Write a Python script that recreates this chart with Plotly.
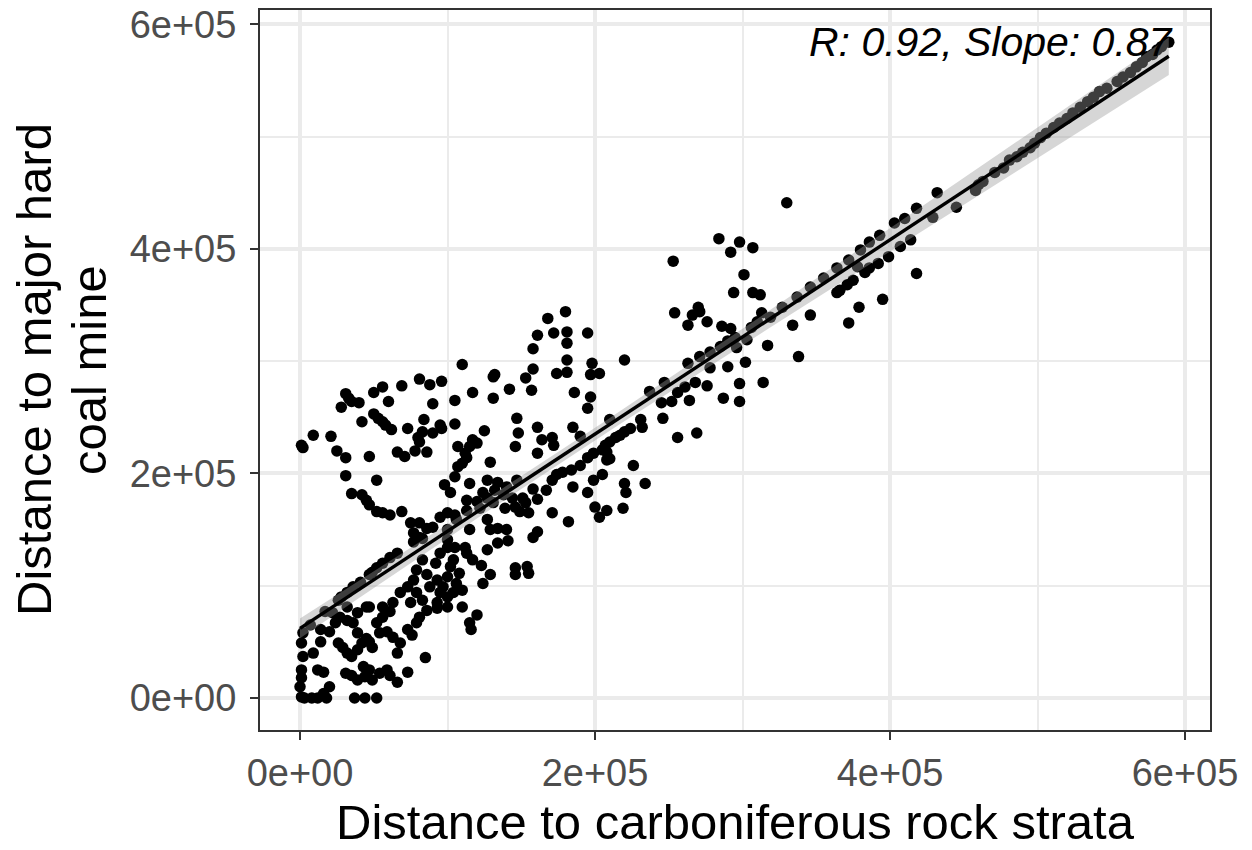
import numpy as np
import plotly.graph_objects as go

# Distances in km, converted to metres below
carb_km = [
    # upper-left cluster
    1, 2, 9, 21, 25, 31, 47, 31, 33, 35, 40, 28, 42, 50, 56, 60, 69, 50, 53, 56,
    58, 62, 66, 71, 73, 81, 88, 96, 90, 84, 95, 96, 90, 83, 80, 81, 78, 86, 31, 52,
    # middle-left
    35, 42, 45, 47, 52, 56, 61, 69, 98, 75, 81, 86, 90, 77, 81, 77, 83, 95, 100, 66,
    61, 56, 52, 49, 47, 41, 36, 32, 28, 26, 83, 92, 95, 100, 79, 86, 93, 77, 73, 68,
    79, 88, 95, 100, 83, 93, 100, 75, 63, 56, 47,
    # lower-left
    2, 1, 2, 1, 1, 0, 1, 3, 8, 12, 18, 37, 44, 52, 9, 12, 16, 20, 16, 14,
    20, 24, 27, 32, 36, 26, 29, 32, 35, 39, 42, 39, 45, 49, 47, 31, 35, 39, 44, 47,
    43, 49, 54, 59, 61, 66, 73, 52, 56, 61, 54, 59, 63, 68, 66, 73, 76, 79, 81, 86,
    93, 85, 39, 45, 32, 22, 14, 7, 17,
    # upper-middle scatter
    161, 172, 181, 195, 181, 158, 110, 131, 132, 153, 158, 142, 157, 174, 181, 181, 198, 197, 203, 186,
    197, 195, 117, 105, 131, 147, 148, 146, 105, 125, 161, 164, 171, 172, 185, 190, 107, 112, 117, 120,
    115, 161, 129, 168, 180,
    # middle band
    113, 107, 110, 105, 102, 115, 127, 134, 132, 124, 127, 120, 113, 113, 122, 131, 138, 140, 147, 144,
    151, 153, 146, 139, 155, 149, 158, 161, 167, 171, 174, 178, 184, 190, 195, 199, 208, 208, 185, 195,
    199, 205, 171, 182, 200, 203, 208, 105, 106, 100, 115, 127, 129, 134, 140, 134, 141, 127, 161, 158,
    100, 105, 112, 113, 117, 123, 129, 124, 104, 102, 100, 108, 106, 97, 104, 110, 146, 154, 146, 155,
    110, 120, 115, 116,
    # 250-320 km
    253, 284, 298, 292, 307, 301, 294, 307, 312, 254, 266, 270, 271, 263, 276, 286, 292, 313, 317, 303,
    302, 220, 263, 290, 296, 271, 278, 285, 290, 295, 306, 310,
    278, 237, 247, 245, 252, 256, 261, 268, 276, 264, 298, 287, 298, 314, 246, 231, 232, 224, 220, 217,
    214, 210, 207, 205, 210, 226, 256, 269, 220, 221, 234, 219, 210,
    # 320-420 km
    330, 418, 410, 403, 393, 386, 380, 372, 364, 355, 346, 337, 327, 319, 414, 407, 399, 392, 386, 383,
    378, 375, 371, 366, 364, 418, 395, 379, 372, 346, 334, 338,
    # upper-right line
    589, 432, 445, 460, 463, 458, 481, 486, 490, 495, 498, 502, 506, 511, 515, 520, 524, 529, 534, 538,
    542, 547, 554, 558, 563, 567, 571, 574, 429, 578, 581, 584, 477, 471,
]

mine_km = [
    225, 223, 234, 233, 220, 214, 215, 271, 267, 264, 263, 259, 246, 272, 277, 264, 278, 253, 249, 246,
    243, 239, 219, 215, 240, 284, 279, 282, 262, 248, 243, 240, 236, 237, 232, 228, 220, 219, 198, 194,
    182, 181, 176, 172, 166, 165, 163, 166, 190, 156, 156, 151, 152, 147, 143, 139, 142, 161, 165, 129,
    125, 120, 116, 112, 110, 103, 99, 94, 90, 87, 123, 120, 129, 134, 114, 110, 105, 105, 99, 94,
    94, 99, 94, 90, 87, 85, 81, 85, 85, 81, 81,
    58, 49, 37, 25, 18, 10, 1, 0, 0, 0, 0, 0, 0, 0, 40, 25, 23, 10, 4, 50,
    59, 67, 72, 69, 67, 49, 45, 40, 37, 43, 49, 58, 53, 45, 50, 22, 20, 16, 19, 25,
    28, 16, 22, 25, 20, 14, 23, 67, 72, 77, 58, 59, 54, 49, 40, 61, 56, 67, 72, 78,
    80, 36, 76, 81, 81, 76, 61, 65, 77,
    323, 325, 326, 325, 316, 311, 297, 286, 288, 285, 293, 275, 274, 289, 290, 301, 298, 288, 289, 272,
    268, 258, 272, 265, 267, 249, 236, 224, 244, 238, 241, 230, 232, 225, 241, 233, 224, 218, 230, 227,
    224, 218, 210, 338, 344,
    214, 206, 209, 197, 183, 191, 194, 192, 185, 183, 178, 175, 176, 167, 169, 174, 181, 188, 194, 178,
    178, 174, 170, 169, 165, 166, 186, 177, 185, 194, 199, 201, 203, 207, 214, 218, 219, 212, 188, 183,
    194, 199, 165, 157, 170, 161, 167, 163, 159, 150, 150, 159, 150, 151, 150, 138, 140, 132, 148, 143,
    141, 134, 134, 129, 123, 118, 110, 102, 123, 117, 108, 111, 102, 99, 94, 96, 116, 117, 110, 111,
    81, 74, 67, 61,
    389, 409, 406, 397, 401, 377, 361, 361, 359, 343, 341, 348, 344, 332, 335, 331, 329, 343, 314, 319,
    299, 301, 298, 295, 312, 304, 308, 313, 318, 321, 330, 335,
    294, 273, 281, 263, 264, 272, 277, 281, 278, 265, 280, 267, 264, 281, 249, 248, 241, 240, 237, 234,
    232, 228, 225, 221, 213, 207, 232, 236, 191, 183, 191, 169, 248,
    441, 436, 427, 423, 412, 406, 399, 390, 383, 374, 366, 357, 348, 339, 408, 402, 393, 387, 383, 379,
    384, 372, 368, 363, 361, 378, 355, 348, 334, 341, 332, 304,
    584, 450, 437, 457, 460, 452, 479, 482, 486, 490, 494, 499, 503, 508, 512, 516, 521, 526, 531, 535,
    540, 543, 549, 553, 557, 562, 566, 571, 428, 573, 577, 580, 472, 468,
]

x_vals = np.array(carb_km, dtype=float) * 1000
y_vals = np.array(mine_km, dtype=float) * 1000

# fitted line
fit_intercept = 62000
fit_slope = 0.865

tick_vals = [0, 200000, 400000, 600000]
tick_text = ["0e+00", "2e+05", "4e+05", "6e+05"]
stat_label = "R: 0.92, Slope: 0.87"

# confidence band (standard lm formula)
n = len(x_vals)
xbar = x_vals.mean()
resid = y_vals - (fit_intercept + fit_slope * x_vals)
s = np.sqrt(np.sum(resid ** 2) / (n - 2))
sxx = np.sum((x_vals - xbar) ** 2)
xg = np.linspace(x_vals.min(), x_vals.max(), 80)
yg = fit_intercept + fit_slope * xg
se = s * np.sqrt(1 / n + (xg - xbar) ** 2 / sxx)
lo = yg - 1.8 * se
hi = yg + 1.8 * se

FONT = "Liberation Sans, Arial, sans-serif"

fig = go.Figure()
fig.add_trace(go.Scatter(x=x_vals, y=y_vals, mode="markers",
                         marker=dict(color="black", size=11.5, line=dict(width=0)),
                         showlegend=False, hoverinfo="x+y"))
fig.add_trace(go.Scatter(x=np.concatenate([xg, xg[::-1]]), y=np.concatenate([hi, lo[::-1]]),
                         fill="toself", fillcolor="rgba(153,153,153,0.4)",
                         line=dict(width=0), mode="lines", showlegend=False, hoverinfo="skip"))
fig.add_trace(go.Scatter(x=xg, y=yg, mode="lines", line=dict(color="black", width=3.4),
                         showlegend=False))

axis_common = dict(
    showgrid=True, gridcolor="#EBEBEB", gridwidth=3.5,
    zeroline=False, showline=True, mirror=True, linecolor="#333333", linewidth=2,
    ticks="outside", ticklen=8, tickwidth=2, tickcolor="#333333",
    tickfont=dict(family=FONT, size=38, color="#4D4D4D"),
    tickvals=tick_vals, ticktext=tick_text,
    minor=dict(showgrid=True, gridcolor="#EBEBEB", gridwidth=1.8, dtick=100000, tick0=0, ticks=""),
)

fig.update_xaxes(range=[-27119, 616949], **axis_common,
                 title=dict(text="Distance to carboniferous rock strata", standoff=12,
                            font=dict(family=FONT, size=49, color="black")))
fig.update_yaxes(range=[-28495, 612644], ticklabelstandoff=6, **axis_common)

fig.add_annotation(text="Distance to major hard", xref="paper", yref="paper",
                   x=(34 - 260) / 950, y=0.5, textangle=-90, showarrow=False,
                   xanchor="center", yanchor="middle",
                   font=dict(family=FONT, size=49, color="black"))
fig.add_annotation(text="coal mine", xref="paper", yref="paper",
                   x=(89 - 260) / 950, y=0.5, textangle=-90, showarrow=False,
                   xanchor="center", yanchor="middle",
                   font=dict(family=FONT, size=49, color="black"))
fig.add_annotation(text="<i>" + stat_label + "</i>", xref="paper", yref="paper",
                   x=(1176 - 260) / 950, y=(730 - 42) / 720, showarrow=False,
                   xanchor="right", yanchor="middle",
                   font=dict(family=FONT, size=41, color="black"))

fig.update_layout(width=1252, height=850, plot_bgcolor="white", paper_bgcolor="white",
                  margin=dict(l=260, r=42, t=10, b=120, autoexpand=False))
fig.write_html("out.html", config={"displayModeBar": False},
               post_script="document.body.style.margin='0px';document.body.style.overflow='hidden';")
